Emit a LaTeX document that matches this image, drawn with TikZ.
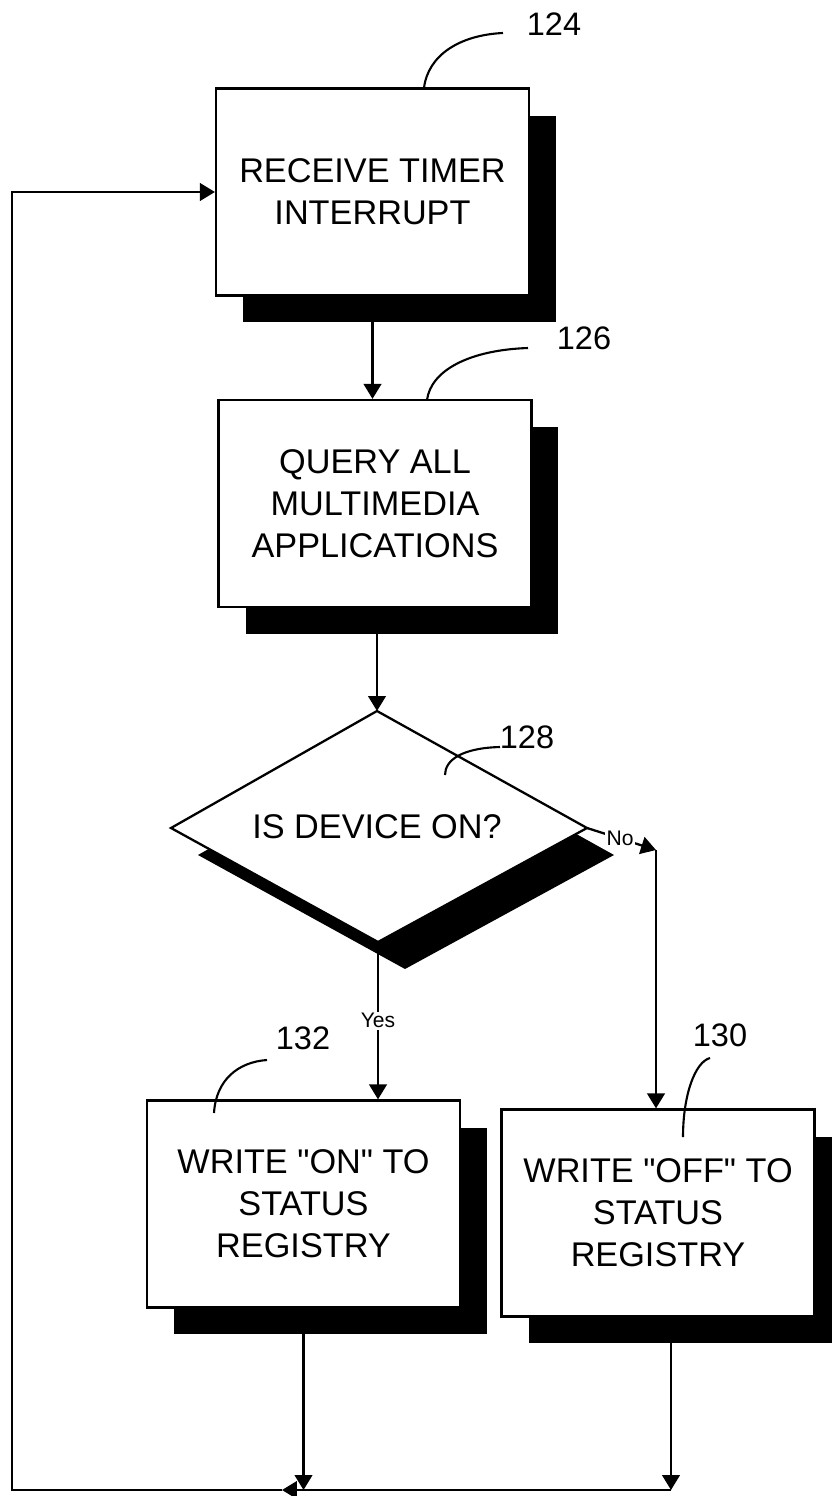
\documentclass[tikz,border=0pt]{standalone}
\usepackage{fontspec}
\setmainfont{Liberation Sans}
\usetikzlibrary{arrows.meta,shadows,calc}
\begin{document}
\begin{tikzpicture}[x=0.02cm,y=-0.02cm,
  line width=1.3pt,
  arr/.style={-{Triangle[length=8.5pt,width=10pt]}},
  stepbox/.style={draw,fill=white,minimum width=6.26cm,minimum height=4.14cm,
    align=center,font=\fontsize{19.5}{24}\selectfont,inner sep=0pt,
    drop shadow={shadow xshift=0.54cm,shadow yshift=-0.54cm,opacity=1,fill=black}},
  refnum/.style={font=\fontsize{18.5}{20}\selectfont,inner sep=0pt},
  small/.style={font=\fontsize{12}{14}\selectfont,fill=white,inner sep=1pt},
  leader/.style={line width=1.2pt}]
\useasboundingbox (0,0) rectangle (831,1496);

% process boxes
\node[stepbox] (b124) at (372.5,192) {RECEIVE TIMER\\INTERRUPT};
\node[stepbox] (b126) at (375,503.5) {QUERY ALL\\MULTIMEDIA\\APPLICATIONS};
\node[stepbox] (b132) at (303.5,1204) {WRITE \textquotedbl ON\textquotedbl{} TO\\STATUS\\REGISTRY};
\node[stepbox] (b130) at (658,1213) {WRITE \textquotedbl OFF\textquotedbl{} TO\\STATUS\\REGISTRY};

% decision diamond
\coordinate (dt) at (377,711);
\coordinate (dl) at (171,828);
\coordinate (dr) at (587,828);
\coordinate (db) at (378,942);
\fill[black] ($(dt)+(27,27)$) -- ($(dr)+(27,27)$) -- ($(db)+(27,27)$) -- ($(dl)+(27,27)$) -- cycle;
\filldraw[fill=white] (dt) -- (dr) -- (db) -- (dl) -- cycle;
\node[font=\fontsize{19.5}{24}\selectfont] (dtext) at (377,827) {IS DEVICE ON?};

% reference numerals
\node[refnum] (n124) at (554,24) {124};
\node[refnum] (n126) at (584,338) {126};
\node[refnum] (n128) at (527,737) {128};
\node[refnum] (n132) at (303,1038) {132};
\node[refnum] (n130) at (720,1035) {130};

\coordinate (l124a) at (424,88);   \coordinate (l124b) at (503,33);
\coordinate (l126a) at (427,400);  \coordinate (l126b) at (528,348);
\coordinate (l128a) at (445,775);  \coordinate (l128b) at (500,747);
\coordinate (l132a) at (214,1113); \coordinate (l132b) at (267,1060);
\coordinate (l130a) at (683,1137); \coordinate (l130b) at (710,1058);
\draw[leader] (l124a) .. controls (428,55) and (460,35) .. (l124b);
\draw[leader] (l126a) .. controls (431,370) and (470,350) .. (l126b);
\draw[leader] (l128a) .. controls (445,760) and (462,748) .. (l128b);
\draw[leader] (l132a) .. controls (216,1080) and (238,1062) .. (l132b);
\draw[leader] (l130a) .. controls (683,1095) and (695,1062) .. (l130b);

% connectors
\draw[arr] (b124.south) -- (b124.south |- b126.north);
\draw[arr] (dt |- b126.south) -- (dt);
\draw[arr] (db) -- node[small]{Yes} (db |- b132.north);
\coordinate (nc) at (656,850);
\draw[arr] (dr) -- node[small,pos=0.48]{No} (nc);
\draw[arr] (nc) -- (nc |- b130.north);

\coordinate (bl) at (12,1490);
\coordinate (mid) at (282,1490);
\coordinate (r1) at ($(b130.south)+(13,0)$);
\draw[arr] (b132.south) -- (b132.south |- bl);
\draw[arr] (r1) -- (r1 |- bl);
\draw[arr] (r1 |- bl) -- (mid);
\draw[arr] (mid) -- (bl) |- (b124.west);
\end{tikzpicture}
\end{document}
